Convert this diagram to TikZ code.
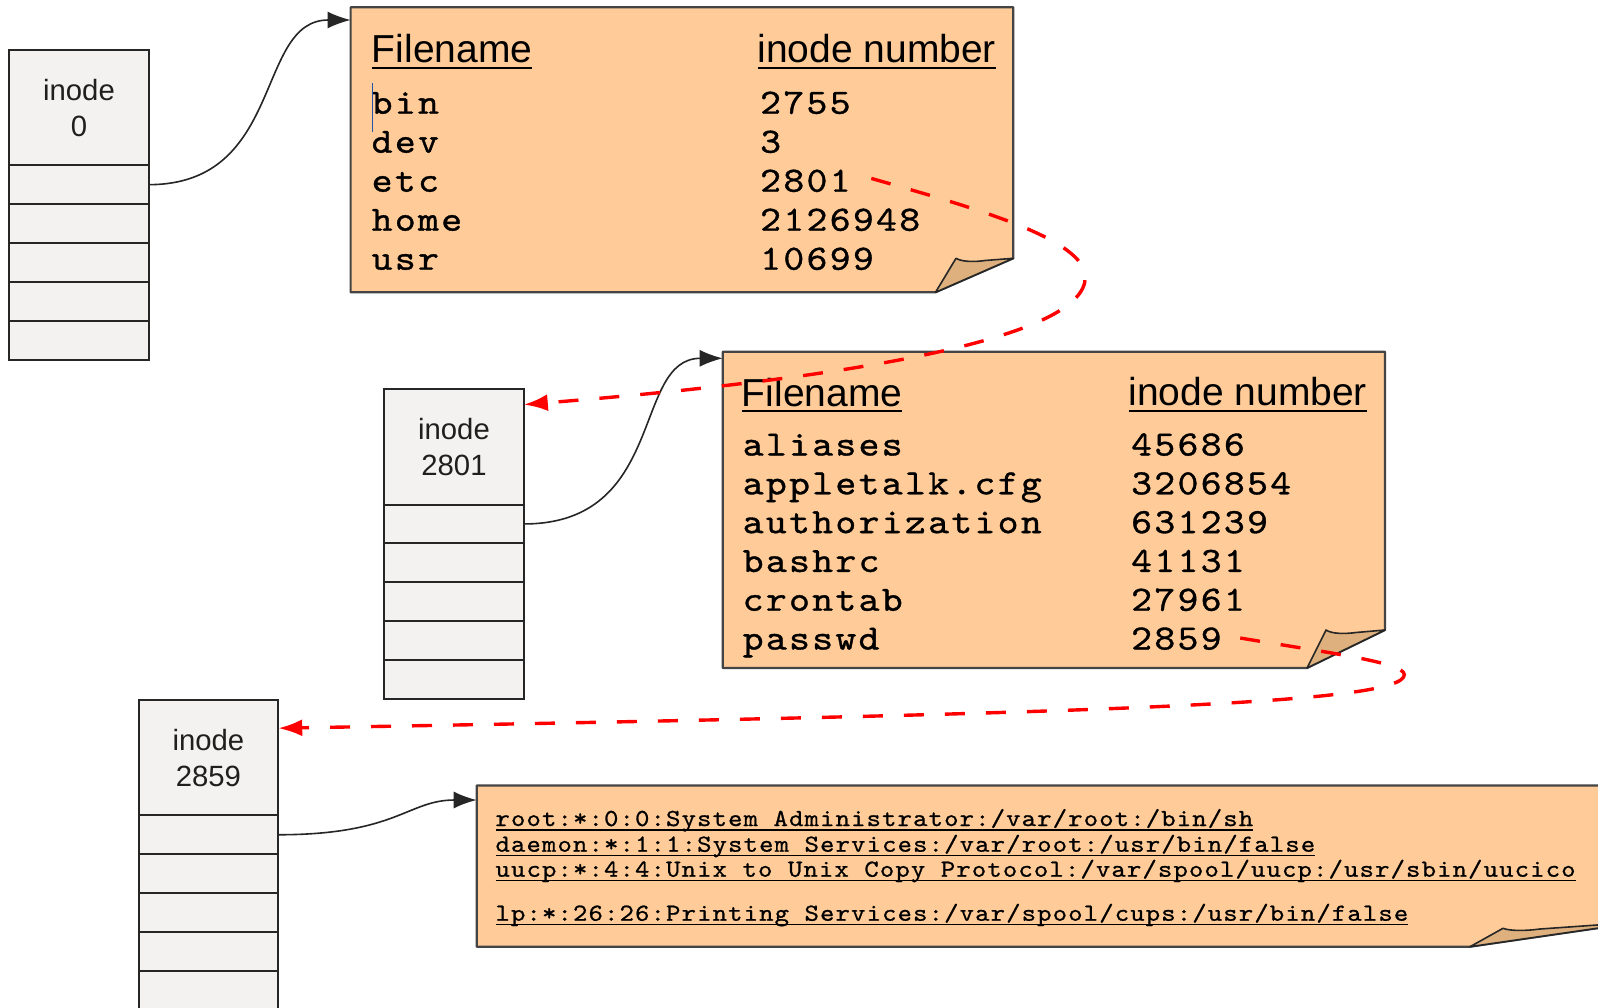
\documentclass[tikz,border=0pt]{standalone}
\usepackage{fontspec}
\setmainfont{Liberation Sans}
\newfontfamily\monobig[FakeStretch=1.12,LetterSpace=6.5,FakeBold=1]{lmmono10-regular.otf}
\newfontfamily\monosmall[FakeStretch=1.12,LetterSpace=4.5,FakeBold=0.8]{lmmono10-regular.otf}
\usetikzlibrary{arrows.meta}
\definecolor{notefill}{HTML}{FFCC99}
\definecolor{foldfill}{HTML}{DDB07E}
\definecolor{inodefill}{HTML}{F4F2F0}
\definecolor{edgegray}{HTML}{444444}
\definecolor{cursorblue}{HTML}{2255AA}
\newcommand{\hdrul}[1]{\setbox0\hbox{#1}\rlap{\rule[-6.2pt]{\wd0}{1.8pt}}\box0}
\newcommand{\lineul}[1]{\setbox0\hbox{#1}\rlap{\rule[-4.7pt]{\wd0}{1.4pt}}\box0}
\tikzset{
  inodehead/.style={draw=black!85, fill=inodefill, line width=2pt, minimum width=139.6pt, minimum height=115.2pt, anchor=north west, inner sep=0pt, outer sep=0pt},
  inoderow/.style={draw=black!85, fill=inodefill, line width=2pt, minimum width=139.6pt, minimum height=38.9pt, anchor=north west, inner sep=0pt, outer sep=0pt},
  inodelabel/.style={anchor=base, inner sep=0pt, font=\fontsize{29.3}{35}\selectfont, text=black!88},
  notebox/.style={draw=edgegray, fill=notefill, line width=2.2pt, line join=round},
  foldpatch/.style={draw=black!85, fill=foldfill, line width=1.6pt, line join=round},
  hdr/.style={anchor=base west, inner sep=0pt, font=\fontsize{39}{44}\selectfont},
  bigmono/.style={anchor=base west, inner sep=0pt, font=\monobig\fontsize{35.5}{39}\selectfont},
  smallmono/.style={anchor=base west, inner sep=0pt, font=\monosmall\fontsize{24.5}{26}\selectfont},
  link/.style={draw=black!85, line width=1.6pt, -{Latex[length=23pt,width=17pt]}},
  redlink/.style={draw=red, line width=3.4pt, dash pattern=on 20pt off 21pt, -{Latex[length=24pt,width=17pt]}}
}
\begin{document}
\begin{tikzpicture}[x=1pt,y=-1pt]
\useasboundingbox (0,0) rectangle (1598,1007);
\fill[white] (0,0) rectangle (1598,1007);
\clip (0,0) rectangle (1598,1007);

% ---------- inode 0 ----------
\node[inodehead] (i0h) at (9.2,50) {};
\node[inoderow] (i0r1) at (i0h.south west) {};
\node[inoderow] (i0r2) at (i0r1.south west) {};
\node[inoderow] (i0r3) at (i0r2.south west) {};
\node[inoderow] (i0r4) at (i0r3.south west) {};
\node[inoderow] (i0r5) at (i0r4.south west) {};
\node[inodelabel] (i0t1) at (79,100) {inode};
\node[inodelabel] (i0t2) at (79,136) {0};

% ---------- inode 2801 ----------
\node[inodehead] (i1h) at (384.2,389.3) {};
\node[inoderow] (i1r1) at (i1h.south west) {};
\node[inoderow] (i1r2) at (i1r1.south west) {};
\node[inoderow] (i1r3) at (i1r2.south west) {};
\node[inoderow] (i1r4) at (i1r3.south west) {};
\node[inoderow] (i1r5) at (i1r4.south west) {};
\node[inodelabel] (i1t1) at (454,439.3) {inode};
\node[inodelabel] (i1t2) at (454,475.3) {2801};

% ---------- inode 2859 ----------
\node[inodehead] (i2h) at (138.6,700.1) {};
\node[inoderow] (i2r1) at (i2h.south west) {};
\node[inoderow] (i2r2) at (i2r1.south west) {};
\node[inoderow] (i2r3) at (i2r2.south west) {};
\node[inoderow] (i2r4) at (i2r3.south west) {};
\node[inoderow] (i2r5) at (i2r4.south west) {};
\node[inodelabel] (i2t1) at (208.4,750.1) {inode};
\node[inodelabel] (i2t2) at (208.4,786.1) {2859};

% ---------- directory note 1 ----------
\draw[notebox] (350.6,7.3) -- (1013.3,7.3) -- (1013.3,258.3) -- (935.5,292.3) -- (350.6,292.3) -- cycle;
\draw[foldpatch] (935.5,292.3) -- (956,258.3) .. controls (962,262) and (975,262) .. (985,260.5) -- (1013.3,258.3) -- cycle;
\coordinate (b1in) at (350.6,20);
\node[hdr] (b1h1) at (371.7,62.7) {\hdrul{Filename}};
\node[hdr] (b1h2) at (757.3,62.7) {\hdrul{inode number}};
\node[bigmono] (b1n1) at (371.5,113.7) {bin};
\node[bigmono] (b1n2) at (371.5,152.7) {dev};
\node[bigmono] (b1n3) at (371.5,191.7) {etc};
\node[bigmono] (b1n4) at (371.5,230.7) {home};
\node[bigmono] (b1n5) at (371.5,269.7) {usr};
\node[bigmono] (b1v1) at (760,113.7) {2755};
\node[bigmono] (b1v2) at (760,152.7) {3};
\node[bigmono] (b1v3) at (760,191.7) {2801};
\node[bigmono] (b1v4) at (760,230.7) {2126948};
\node[bigmono] (b1v5) at (760,269.7) {10699};
\draw[cursorblue, line width=1pt] (372.3,83.3) -- (372.3,131.7);

% ---------- directory note 2 ----------
\draw[notebox] (722.7,351.7) -- (1385,351.7) -- (1385,630) -- (1307,668) -- (722.7,668) -- cycle;
\draw[foldpatch] (1307,668) -- (1326,630) .. controls (1332,634) and (1345,634) .. (1356,632.5) -- (1385,630) -- cycle;
\coordinate (b2in) at (722.7,358.3);
\node[hdr] (b2h1) at (741.7,406) {\hdrul{Filename}};
\node[hdr] (b2h2) at (1128.3,405.5) {\hdrul{inode number}};
\node[bigmono] (b2n1) at (742.5,455.5) {aliases};
\node[bigmono] (b2n2) at (742.5,494.3) {appletalk.cfg};
\node[bigmono] (b2n3) at (742.5,533.1) {authorization};
\node[bigmono] (b2n4) at (742.5,571.9) {bashrc};
\node[bigmono] (b2n5) at (742.5,610.7) {crontab};
\node[bigmono] (b2n6) at (742.5,649.5) {passwd};
\node[bigmono] (b2v1) at (1131,455.5) {45686};
\node[bigmono] (b2v2) at (1131,494.3) {3206854};
\node[bigmono] (b2v3) at (1131,533.1) {631239};
\node[bigmono] (b2v4) at (1131,571.9) {41131};
\node[bigmono] (b2v5) at (1131,610.7) {27961};
\node[bigmono] (b2v6) at (1131,649.5) {2859};

% ---------- file note 3 ----------
\draw[notebox] (476.7,785.5) -- (1640,785.5) -- (1640,922) -- (1470,946.7) -- (476.7,946.7) -- cycle;
\draw[foldpatch] (1470,946.7) -- (1503,928.3) .. controls (1510,931) and (1525,931) .. (1540,929) -- (1640,922) -- cycle;
\coordinate (b3in) at (476.7,800);
\node[smallmono] (b3l1) at (495.3,826) {\lineul{root:*:0:0:System Administrator:/var/root:/bin/sh}};
\node[smallmono] (b3l2) at (495.3,851.7) {\lineul{daemon:*:1:1:System Services:/var/root:/usr/bin/false}};
\node[smallmono] (b3l3) at (495.3,876.7) {\lineul{uucp:*:4:4:Unix to Unix Copy Protocol:/var/spool/uucp:/usr/sbin/uucico}};
\node[smallmono] (b3l4) at (495.3,920.7) {\lineul{lp:*:26:26:Printing Services:/var/spool/cups:/usr/bin/false}};

% ---------- black links: inode data block -> content ----------
\draw[link] (i0r1.east) .. controls (285.3,184.6) and (254.8,20) .. (b1in);
\draw[link] (i1r1.east) .. controls (667.5,524) and (631.8,358.3) .. (b2in);
\draw[link] (i2r1.east) .. controls (397.4,834.7) and (407.6,800) .. (b3in);

% ---------- red links: directory entry -> inode ----------
\coordinate (r1s) at (871.3,178.4);
\coordinate (r1m) at (1085.3,277.2);
\coordinate (r1e) at (523.8,404.6);
\draw[redlink] (r1s) .. controls (978.3,208.9) and (1085.3,239.5) .. (r1m)
  .. controls (1085.3,336.3) and (866.2,377.1) .. (r1e);
\coordinate (r2s) at (1240.2,638);
\coordinate (r2m) at (1404.3,674.6);
\coordinate (r2e) at (278.2,728.2);
\draw[redlink] (r2s) .. controls (1324.8,652.2) and (1404.3,662.4) .. (r2m)
  .. controls (1404.3,703.2) and (1121,713.4) .. (r2e);
\end{tikzpicture}
\end{document}
